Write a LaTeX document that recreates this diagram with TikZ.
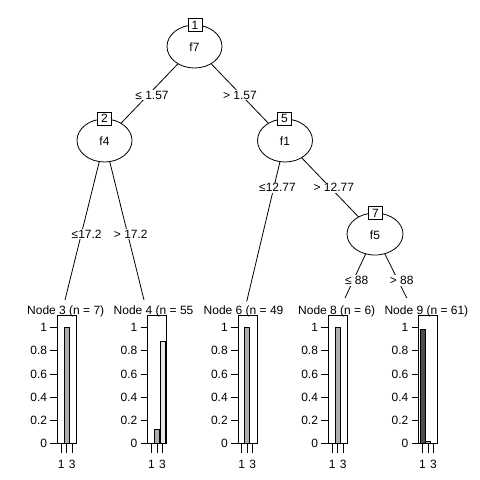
\documentclass[tikz,border=0pt]{standalone}
\usepackage{fontspec}
\setmainfont{Liberation Sans}
\usetikzlibrary{shapes.geometric,backgrounds}
\definecolor{cone}{HTML}{4D4D4D}
\definecolor{ctwo}{HTML}{AEAEAE}
\definecolor{cthree}{HTML}{E6E6E6}
\tikzset{
  every node/.style={font=\fontsize{12}{14}\selectfont},
  split/.style={ellipse,draw,fill=white,minimum width=55pt,minimum height=43pt,inner sep=0pt,line width=0.8pt},
  idbox/.style={rectangle,draw,fill=white,minimum width=14pt,minimum height=13pt,inner sep=0pt,line width=0.8pt},
  elab/.style={fill=white,inner sep=1pt},
  edgeline/.style={line width=0.8pt},
  axisline/.style={line width=0.8pt},
  barbox/.style={draw,line width=0.8pt},
  ttl/.style={anchor=base west,inner sep=0pt},
}
\newcommand\panelaxes[2]{% #1 name prefix, #2 left x
  \draw[axisline] (#2,315) rectangle (#2+19,443.3);
  \foreach \v/\t/\i in {0/0/a,0.2/0.2/b,0.4/0.4/c,0.6/0.6/d,0.8/0.8/e,1/1/f} {
    \draw[axisline] (#2-7,443.3-115.6*\v) -- (#2,443.3-115.6*\v);
    \node[anchor=east,inner sep=0pt] (#1y\i) at (#2-10,443.3-115.6*\v) {\t};
  }
  \foreach \k in {1,2,3} \draw[axisline] (#2-1.6+5.5*\k,443.3) -- ++(0,9.4);
  \node[inner sep=0pt] (#1xa) at (#2-1.6+5.5,464.3) {1};
  \node[inner sep=0pt] (#1xc) at (#2-1.6+16.5,464.3) {3};
}
\newcommand\drawbar[4]{% left x, class, height, colour
  \draw[barbox,fill=#4] (#1-1.6+5.5*#2-2.5,443.3) rectangle (#1-1.6+5.5*#2+2.5,443.3-115.6*#3);
}
\begin{document}
\begin{tikzpicture}[x=1pt,y=-1pt]
\useasboundingbox (0,0) rectangle (480,480);

% inner nodes
\node[split] (n1) at (194.5,46.5) {};
\node at (194.5,47.5) (n1t) {f7};
\node[idbox] (b1) at (195,25) {1};
\node[split] (n2) at (104.5,140.5) {};
\node at (104.5,141.5) (n2t) {f4};
\node[idbox] (b2) at (104.5,118.5) {2};
\node[split] (n5) at (285,140.5) {};
\node at (285,141.5) (n5t) {f1};
\node[idbox] (b5) at (284.5,118.5) {5};
\node[split,minimum width=56pt,minimum height=42pt] (n7) at (375,234) {};
\node at (375,235) (n7t) {f5};
\node[idbox] (b7) at (375.5,213) {7};

% terminal end points
\coordinate (t3) at (65,300);
\coordinate (t4) at (144,300);
\coordinate (t6) at (246.7,301.5);
\coordinate (t8) at (345,298);
\coordinate (t9) at (406.7,298);

\begin{scope}[on background layer]
  \fill[white] (0,0) rectangle (480,480);
  \draw[edgeline] (n1.center) -- (n2.center);
  \draw[edgeline] (n1.center) -- (n5.center);
  \draw[edgeline] (n2.center) -- (t3);
  \draw[edgeline] (n2.center) -- (t4);
  \draw[edgeline] (n5.center) -- (t6);
  \draw[edgeline] (n5.center) -- (n7.center);
  \draw[edgeline] (n7.center) -- (t8);
  \draw[edgeline] (n7.center) -- (t9);
\end{scope}

% edge labels
\node[elab] (l12) at (152,95) {≤ 1.57};
\node[elab] (l15) at (240,95) {> 1.57};
\node[elab] (l23) at (86.7,234) {≤17.2};
\node[elab] (l24) at (130.8,234) {> 17.2};
\node[elab] (l56) at (277.5,187.7) {≤12.77};
\node[elab] (l57) at (333.8,187.7) {> 12.77};
\node[elab] (l78) at (356.7,280.7) {≤ 88};
\node[elab] (l79) at (401.7,280.7) {> 88};

% terminal panels
\node[ttl] (p3) at (27,314) {Node 3 (n = 7)};
\panelaxes{pa}{57.3}
\drawbar{57.3}{2}{1}{ctwo}

\node[ttl] (p4) at (113.5,314) {Node 4 (n = 55};
\panelaxes{pb}{147.6}
\drawbar{147.6}{2}{0.12}{ctwo}
\drawbar{147.6}{3}{0.88}{cthree}

\node[ttl] (p6) at (203.5,314) {Node 6 (n = 49};
\panelaxes{pc}{237.9}
\drawbar{237.9}{2}{1}{ctwo}

\node[ttl] (p8) at (298,314) {Node 8 (n = 6)};
\panelaxes{pd}{328.2}
\drawbar{328.2}{2}{1}{ctwo}

\node[ttl] (p9) at (384.3,314) {Node 9 (n = 61)};
\panelaxes{pe}{418.5}
\drawbar{418.5}{1}{0.984}{cone}
\drawbar{418.5}{2}{0.016}{ctwo}
\end{tikzpicture}
\end{document}
